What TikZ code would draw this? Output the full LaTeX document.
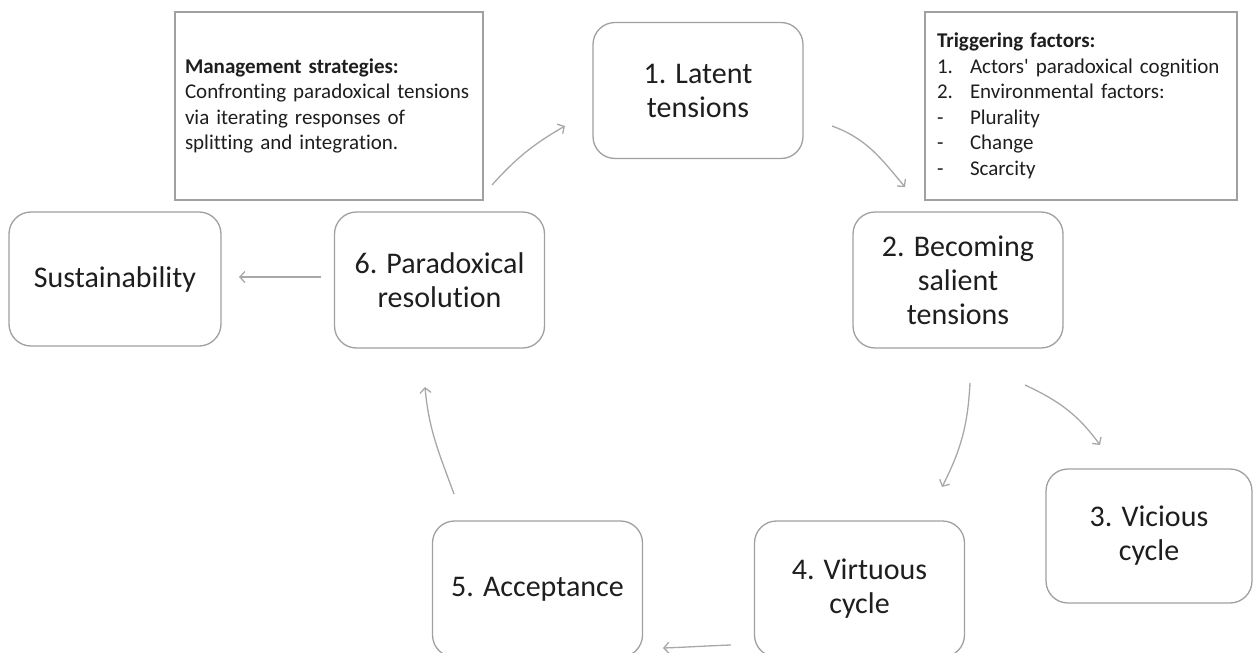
\documentclass[tikz,border=0pt]{standalone}
\usepackage{fontspec}
\setmainfont{Carlito}[Ligatures={TeX,NoCommon}]
\usetikzlibrary{arrows.meta}
\definecolor{boxgray}{HTML}{A0A0A0}
\definecolor{arrgray}{HTML}{A8A8A8}
\definecolor{txt}{HTML}{1E1E1E}
\begin{document}
\begin{tikzpicture}[x=1pt,y=1pt,
  stage/.style={draw=boxgray, line width=1.3pt, rounded corners=22pt,
    minimum width=210pt, minimum height=136pt, align=center, text=txt,
    font=\fontsize{30}{34}\selectfont, inner sep=0pt},
  infobox/.style={draw=boxgray, line width=1.2pt, align=left, text=txt,
    font=\fontsize{21}{25.5}\selectfont, inner sep=0pt, text width=288pt,
    minimum height=188pt},
  flow/.style={draw=arrgray, line width=1.3pt,
    -{Straight Barb[length=5pt,width=11pt]}}]
\useasboundingbox (0,0) rectangle (1253,-653);

\node[infobox, minimum width=308pt] (mgmt) at (329,-106)
  {\textbf{Management strategies:}\\Confronting paradoxical tensions\\via iterating responses of\\splitting and integration.};
\node[infobox, minimum width=312pt] (trig) at (1081,-106)
  {\textbf{Triggering factors:}\\
   \makebox[33pt][l]{1.}Actors\textquotesingle{} paradoxical cognition\\
   \makebox[33pt][l]{2.}Environmental factors:\\
   \makebox[33pt][l]{-}Plurality\\
   \makebox[33pt][l]{-}Change\\
   \makebox[33pt][l]{-}Scarcity};

\node[stage] (n1) at (698,-90.5) {1. Latent\\tensions};
\node[stage] (n2) at (958,-280) {2. Becoming\\salient\\tensions};
\node[stage, minimum width=206pt, minimum height=134pt] (n3) at (1149,-536) {3. Vicious\\cycle};
\node[stage] (n4) at (859.5,-589) {4. Virtuous\\cycle};
\node[stage] (n5) at (537.5,-589) {5. Acceptance};
\node[stage] (n6) at (439.5,-280) {6. Paradoxical\\resolution};
\node[stage, minimum width=212pt, minimum height=134pt] (sust) at (115,-279) {Sustainability};

\coordinate (a61s) at (492,-185);
\coordinate (a61e) at (565,-126);
\coordinate (a12s) at (832,-126);
\coordinate (a12e) at (905,-187);
\coordinate (a23s) at (1025,-385);
\coordinate (a23e) at (1100,-445);
\coordinate (a24s) at (970,-383);
\coordinate (a24e) at (942,-487);
\coordinate (a45s) at (731,-645);
\coordinate (a45e) at (663,-648);
\coordinate (a56s) at (454,-494);
\coordinate (a56e) at (425,-387);
\coordinate (a6ss) at (321,-277);
\coordinate (a6se) at (239,-277);

\draw[flow] (a61s) to[out=48,in=210] (a61e);
\draw[flow] (a12s) to[out=-20,in=130] (a12e);
\draw[flow] (a23s) to[out=-25,in=126] (a23e);
\draw[flow] (a24s) to[out=-93,in=63] (a24e);
\draw[flow] (a45s) to[out=182,in=2] (a45e);
\draw[flow] (a56s) to[out=110,in=-85] (a56e);
\draw[flow] (a6ss) -- (a6se);
\end{tikzpicture}
\end{document}
